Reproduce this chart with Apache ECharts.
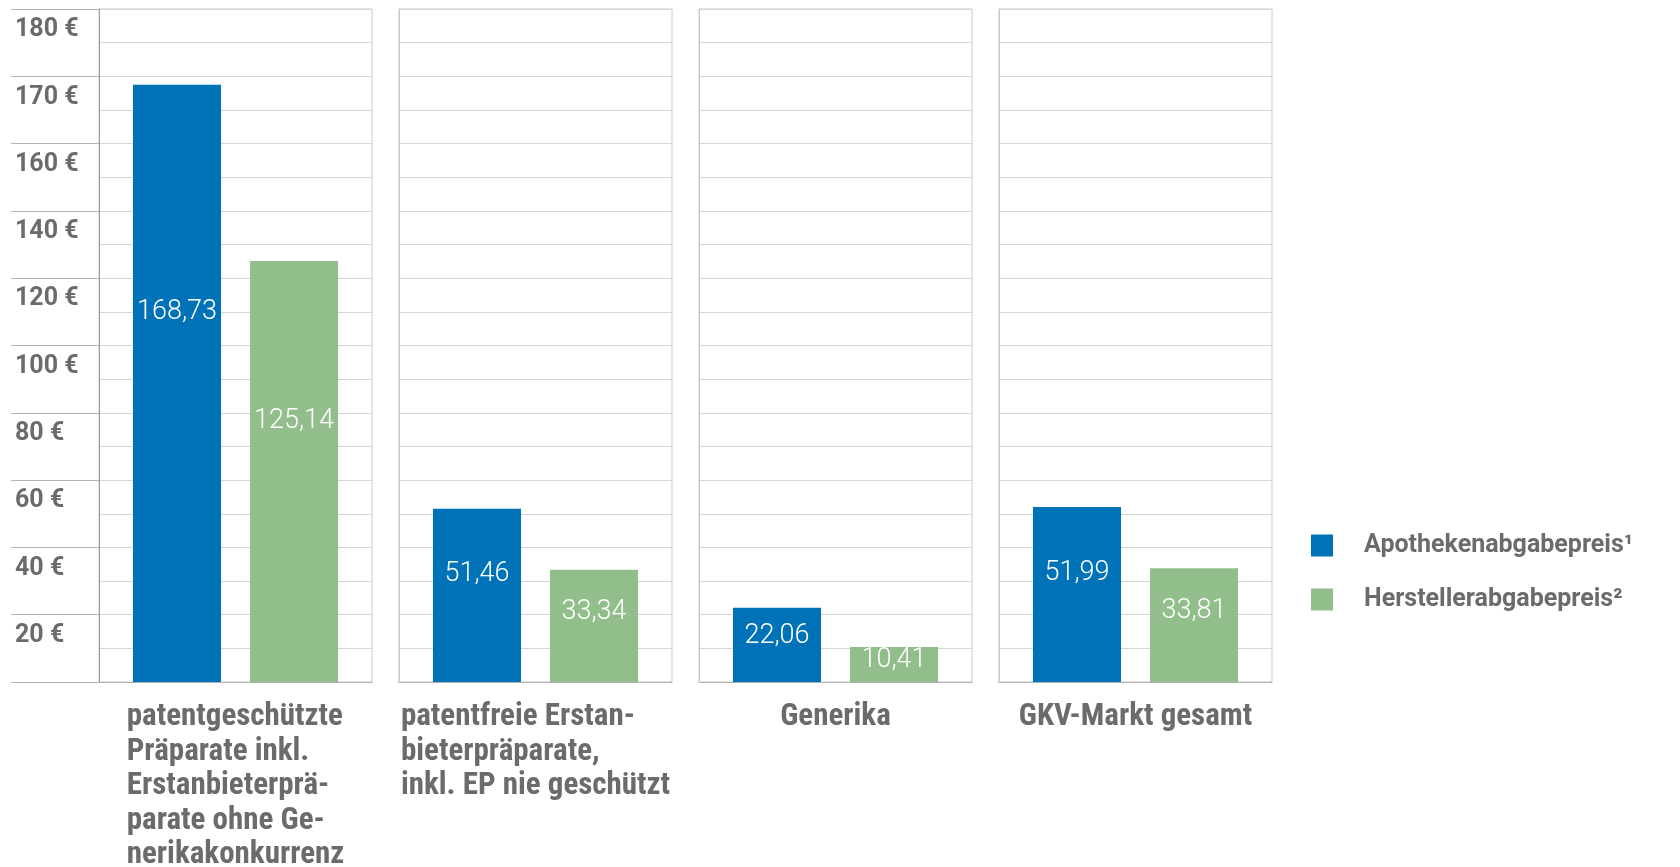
<!DOCTYPE html>
<html>
<head>
<meta charset="utf-8">
<script src="https://cdn.jsdelivr.net/npm/echarts@6/dist/echarts.min.js"></script>
<style>
html,body{margin:0;padding:0;background:#fff;}
#chart{width:1680px;height:867px;}
</style>
</head>
<body>
<div id="chart"></div>
<script>
// ---- data ----
const categories = [
  'patentgeschützte\nPräparate inkl.\nErstanbieterprä-\nparate ohne Ge-\nnerikakonkurrenz',
  'patentfreie Erstan-\nbieterpräparate,\ninkl. EP nie geschützt',
  'Generika',
  'GKV-Markt gesamt'
];
const seriesNames = ['Apothekenabgabepreis¹', 'Herstellerabgabepreis²'];
const apothekenabgabepreis = [168.73, 51.46, 22.06, 51.99];
const herstellerabgabepreis = [125.14, 33.34, 10.41, 33.81];
const yTickLabels = ['', '20 €', '40 €', '60 €', '80 €', '100 €', '120 €', '140 €', '160 €', '170 €', '180 €'];

// The original axis is linear up to 160 € and then doubles its scale (170 €, 180 €)
function toAxis(v) { return v <= 160 ? v : 160 + (v - 160) * 2; }
function fmt(v) { return v.toFixed(2).replace('.', ','); }

const BLUE = '#0072b8';
const GREEN = '#92be8b';
const TEXT = '#6b6b6b';
const XFONT = '"Liberation Sans Narrow", "Arial Narrow", "Roboto Condensed", Roboto, sans-serif';

const chart = echarts.init(document.getElementById('chart'));
const grids = [], xAxes = [], yAxes = [], series = [];
const panelLeft = 99, panelStep = 300, panelW = 273;

categories.forEach((cat, i) => {
  grids.push({
    left: panelLeft + panelStep * i, width: panelW, top: 9, height: 673,
    outerBoundsMode: 'none', containLabel: false,
    show: true, borderColor: '#c9c9c9', borderWidth: 1, backgroundColor: 'transparent'
  });
  xAxes.push({
    type: 'category', gridIndex: i, data: [cat],
    axisLine: { show: true, lineStyle: { color: '#b0b0b0', width: 1 } },
    axisTick: { show: false },
    axisLabel: {
      interval: 0, margin: 18, align: 'center', hideOverlap: false,
      color: TEXT, fontFamily: XFONT, fontWeight: 'bold', fontSize: 31, lineHeight: 34.5,
      formatter: (val) => val.split('\n').map(l => '{l|' + l + '}').join('\n'),
      rich: { l: { align: 'left', color: TEXT, fontFamily: XFONT, fontWeight: 'bold', fontSize: 31, lineHeight: 34.5 } }
    }
  });
  yAxes.push({
    type: 'value', gridIndex: i, min: 0, max: 200, interval: 20,
    axisLine: { show: true, lineStyle: { color: i === 0 ? '#9a9a9a' : '#c9c9c9', width: 1 } },
    axisTick: { show: i === 0, inside: false, length: 88, lineStyle: { color: '#b3b3b3' } },
    axisLabel: {
      show: i === 0, align: 'left', margin: 84, verticalAlign: 'top',
      padding: [10, 0, 0, 0], lineHeight: 22,
      color: TEXT, fontFamily: 'Roboto', fontWeight: 'bold', fontSize: 25,
      formatter: (v, idx) => yTickLabels[Math.round(v / 20)] || ''
    },
    splitLine: { show: true, lineStyle: { color: '#d6d6d6', width: 1 } },
    minorTick: { show: false, splitNumber: 2 },
    minorSplitLine: { show: true, lineStyle: { color: '#d6d6d6', width: 1 } }
  });
  [apothekenabgabepreis, herstellerabgabepreis].forEach((arr, s) => {
    series.push({
      name: seriesNames[s], type: 'bar', xAxisIndex: i, yAxisIndex: i,
      barWidth: 88, barGap: '33%',
      itemStyle: { color: s === 0 ? BLUE : GREEN },
      data: [{ value: toAxis(arr[i]) }],
      label: {
        show: true, position: ['50%', '38%'], align: 'center', verticalAlign: 'middle',
        color: '#fff', fontFamily: 'Roboto', fontWeight: 300, fontSize: 27,
        formatter: () => fmt(arr[i])
      },
      emphasis: { disabled: true },
      animation: false
    });
  });
});

chart.setOption({
  backgroundColor: '#fff',
  animation: false,
  grid: grids, xAxis: xAxes, yAxis: yAxes, series: series,
  legend: {
    data: seriesNames, orient: 'vertical', left: 1311, top: 533, padding: 0,
    icon: 'rect', itemWidth: 22, itemHeight: 22, itemGap: 29,
    selectedMode: false,
    textStyle: { color: TEXT, fontFamily: 'Roboto', fontWeight: 'bold', fontSize: 25, lineHeight: 22, padding: [0, 0, 0, 26] }
  }
});
</script>
</body>
</html>
